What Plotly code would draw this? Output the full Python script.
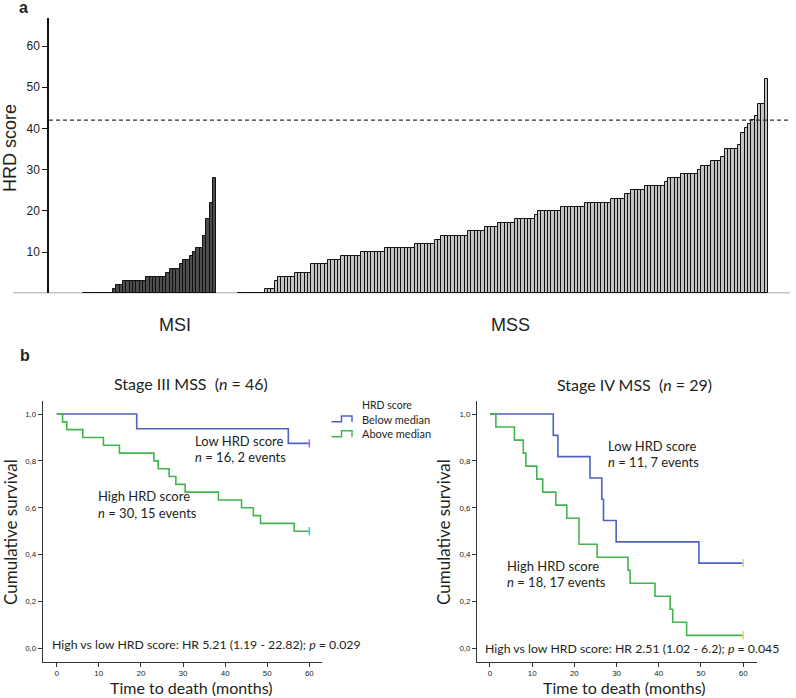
import plotly.graph_objects as go

W, H = 796, 698


def px(x):
    return x / W


def py(y):
    return 1 - y / H


# ---------------- data: panel a ----------------
msi_scores = [0, 0, 0, 0, 0, 0, 0, 0, 0,
              1, 2, 2, 3, 3, 3, 3, 3, 3, 3, 4, 4, 4, 4, 4, 4, 5, 6, 6, 6, 7,
              8, 8, 9, 10, 11, 11, 14, 18, 22, 28]
mss_scores = [0, 0, 0, 0, 0, 0, 0, 0,
              1, 1, 1, 3, 4, 4, 4, 4, 4, 5, 5, 5, 5, 5, 7, 7, 7, 7, 7, 8, 8, 8, 8,
              9, 9, 9, 9, 9, 9, 10, 10, 10, 10, 10, 10, 10,
              11, 11, 11, 11, 11, 11, 11, 11, 11, 12, 12, 12, 12, 12, 12, 13, 13,
              14, 14, 14, 14, 14, 14, 14, 14, 15, 15, 15, 15, 15, 16, 16, 16, 16,
              17, 17, 17, 17, 17, 18, 18, 18, 18, 18, 18, 19,
              20, 20, 20, 20, 20, 20, 20, 21, 21, 21, 21, 21, 21, 21,
              22, 22, 22, 22, 22, 22, 22, 22, 23, 23, 23, 23, 24, 24,
              25, 25, 25, 25, 26, 26, 26, 26, 26, 26, 27, 28, 28, 28, 28,
              29, 29, 29, 29, 29, 30, 31, 31, 31, 32, 32, 32, 33,
              35, 35, 35, 35, 36, 39, 40, 41, 42, 43, 46, 46, 52]
group_labels = ["MSI", "MSS"]
hrd_threshold = 42
hrd_ticks = [10, 20, 30, 40, 50, 60]

# ---------------- data: panel b ----------------
followup_months = 60
month_ticks = [0, 10, 20, 30, 40, 50, 60]
surv_ticks = [0.0, 0.2, 0.4, 0.6, 0.8, 1.0]
surv_ticklabels = ["0,0", "0,2", "0,4", "0,6", "0,8", "1,0"]

s3_low_n = 16
s3_low_death_months = [19.0, 55.0]
s3_high_n = 30
s3_high_death_months = [1.4, 2.4, 6.2, 11.1, 14.9, 23.1, 24.1, 26.7, 28.3, 30.5,
                        38.4, 43.9, 46.7, 48.4, 56.4]
s4_low_n = 11
s4_low_death_months = [15.0, 16.1, 23.7, 26.5, 26.9, 29.9, 49.5]
s4_high_n = 18
s4_high_death_months = [1.4, 5.8, 7.9, 8.5, 11.1, 12.5, 15.6, 18.2, 21.1, 21.1,
                        25.4, 32.7, 33.2, 39.1, 42.7, 43.3, 46.6]

BLUE = "#4f62c0"
GREEN = "#43b54d"
TXT = "#231f20"
KMFONT = "Lato"
ARIAL = "Liberation Sans"


def km(n, deaths, end):
    xs, ys = [0.0], [1.0]
    s, at_risk = 1.0, n
    for t in sorted(set(deaths)):
        d = deaths.count(t)
        s *= (1 - d / at_risk)
        at_risk -= d
        xs.append(t)
        ys.append(s)
    xs.append(end)
    ys.append(s)
    return xs, ys


fig = go.Figure()

# ---- panel a bars ----
MSS_OFFSET = 46.5
msi_x = list(range(len(msi_scores)))
mss_x = [MSS_OFFSET + i for i in range(len(mss_scores))]
fig.add_trace(go.Bar(x=msi_x, y=msi_scores, width=1,
                     marker=dict(color="#4d4d4d", line=dict(color="#111", width=1)),
                     xaxis="x", yaxis="y", showlegend=False))
fig.add_trace(go.Bar(x=mss_x, y=mss_scores, width=1,
                     marker=dict(color="#c4c4c4", line=dict(color="#111", width=1)),
                     xaxis="x", yaxis="y", showlegend=False))

# ---- KM curves ----
panels = [
    ("x2", "y2", s3_low_n, s3_low_death_months, BLUE),
    ("x2", "y2", s3_high_n, s3_high_death_months, GREEN),
    ("x3", "y3", s4_low_n, s4_low_death_months, BLUE),
    ("x3", "y3", s4_high_n, s4_high_death_months, GREEN),
]
for xa, ya, n, deaths, col in panels:
    xs, ys = km(n, deaths, followup_months)
    fig.add_trace(go.Scatter(x=xs, y=ys, mode="lines", line=dict(color=col, width=1.6, shape="hv"),
                             xaxis=xa, yaxis=ya, showlegend=False, hoverinfo="skip"))
    fig.add_trace(go.Scatter(x=[xs[-1]], y=[ys[-1]], mode="markers",
                             marker=dict(symbol="line-ns-open", size=6, line=dict(color=col, width=1.5)),
                             xaxis=xa, yaxis=ya, showlegend=False, hoverinfo="skip"))

shapes = []
# baseline and threshold of panel a
shapes.append(dict(type="line", xref="paper", yref="y", x0=px(13), x1=px(790), y0=0, y1=0,
                   line=dict(color="#8a8a8a", width=1.5), layer="below"))
shapes.append(dict(type="line", xref="paper", yref="y", x0=px(49), x1=px(790),
                   y0=hrd_threshold, y1=hrd_threshold,
                   line=dict(color="#333", width=1.2, dash="4px,3px")))


# legend step icons
def step_icon(y_low, y_high, col):
    p = (f"M {px(331.5)} {py(y_low)} L {px(341.5)} {py(y_low)} L {px(341.5)} {py(y_high)} "
         f"L {px(352)} {py(y_high)} L {px(352)} {py(y_low)}")
    return dict(type="path", xref="paper", yref="paper", path=p, line=dict(color=col, width=1.5))


shapes.append(step_icon(421.7, 416, BLUE))
shapes.append(step_icon(436.7, 430.7, GREEN))

ann = []


def text(x, y, s, size, font=KMFONT, xanchor="center", angle=0, bold=False, color=TXT):
    if bold:
        s = f"<b>{s}</b>"
    ann.append(dict(x=px(x), y=py(y), xref="paper", yref="paper", text=s, showarrow=False,
                    xanchor=xanchor, yanchor="middle", textangle=angle,
                    font=dict(size=size, family=font, color=color)))


text(23, 8, "a", 16, font=ARIAL, bold=True)
text(25, 355, "b", 16, font=ARIAL, bold=True)
text(10, 148, "HRD score", 18, font=ARIAL, angle=-90)
text(175, 325, group_labels[0], 18, font=ARIAL)
text(510.5, 325, group_labels[1], 18, font=ARIAL)

text(191, 383, "Stage III MSS&nbsp;&nbsp;(<i>n</i> = 46)", 16)
text(634, 384, "Stage IV MSS&nbsp;&nbsp;(<i>n</i> = 29)", 16)
text(10, 532, "Cumulative survival", 17, angle=-90)
text(443, 532, "Cumulative survival", 17, angle=-90)
text(191, 687.5, "Time to death (months)", 16)
text(624.5, 687.5, "Time to death (months)", 16)

text(193, 441, "Low HRD score", 13, xanchor="left")
text(193, 457, "<i>n</i> = 16, 2 events", 13, xanchor="left")
text(96, 496, "High HRD score", 13, xanchor="left")
text(96, 513, "<i>n</i> = 30, 15 events", 13, xanchor="left")
text(50, 644.5, "High vs low HRD score: HR 5.21 (1.19 - 22.82); <i>p</i> = 0.029", 12.3, xanchor="left")

text(606, 446, "Low HRD score", 13, xanchor="left")
text(606, 462, "<i>n</i> = 11, 7 events", 13, xanchor="left")
text(505, 565.5, "High HRD score", 13, xanchor="left")
text(505, 581.5, "<i>n</i> = 18, 17 events", 13, xanchor="left")
text(483, 648.5, "High vs low HRD score: HR 2.51 (1.02 - 6.2); <i>p</i> = 0.045", 12.3, xanchor="left")

text(360, 405, "HRD score", 10.5, xanchor="left")
text(360, 419, "Below median", 11, xanchor="left")
text(360, 433.5, "Above median", 11, xanchor="left")

km_x_common = dict(showline=True, linecolor="#333", linewidth=1.3, ticks="outside", ticklen=4,
                   tickcolor="#333", tickvals=month_ticks, showgrid=False, zeroline=False,
                   tickfont=dict(size=8, family=ARIAL, color=TXT))
km_y_common = dict(showline=True, linecolor="#333", linewidth=1.3, ticks="outside", ticklen=4,
                   tickcolor="#333", tickvals=surv_ticks, ticktext=surv_ticklabels,
                   showgrid=False, zeroline=False, range=[-0.057, 1.057],
                   domain=[py(661.7), py(400.7)],
                   tickfont=dict(size=8, family=ARIAL, color=TXT))

fig.update_layout(
    width=W, height=H, margin=dict(l=0, r=0, t=0, b=0),
    paper_bgcolor="white", plot_bgcolor="white",
    bargap=0, barmode="overlay",
    xaxis=dict(domain=[px(49), px(790)], range=[-10.7, 211.6], visible=False, anchor="y"),
    yaxis=dict(domain=[py(293.3), py(18)], range=[0, 66.8], anchor="x",
               showline=True, linecolor="#111", linewidth=1.5, ticks="outside", ticklen=5,
               tickcolor="#111", tickvals=hrd_ticks, showgrid=False, zeroline=False,
               tickfont=dict(size=12, family=ARIAL, color=TXT)),
    xaxis2=dict(domain=[px(43), px(322)], range=[-3.25, 63.0], anchor="y2", **km_x_common),
    yaxis2=dict(anchor="x2", **km_y_common),
    xaxis3=dict(domain=[px(477.3), px(756.7)], range=[-3.0, 63.2], anchor="y3", **km_x_common),
    yaxis3=dict(anchor="x3", **km_y_common),
    shapes=shapes, annotations=ann,
)

fig.write_html("out.html", config={"displayModeBar": False},
               post_script="document.body.style.margin='0';document.body.style.padding='0';")
